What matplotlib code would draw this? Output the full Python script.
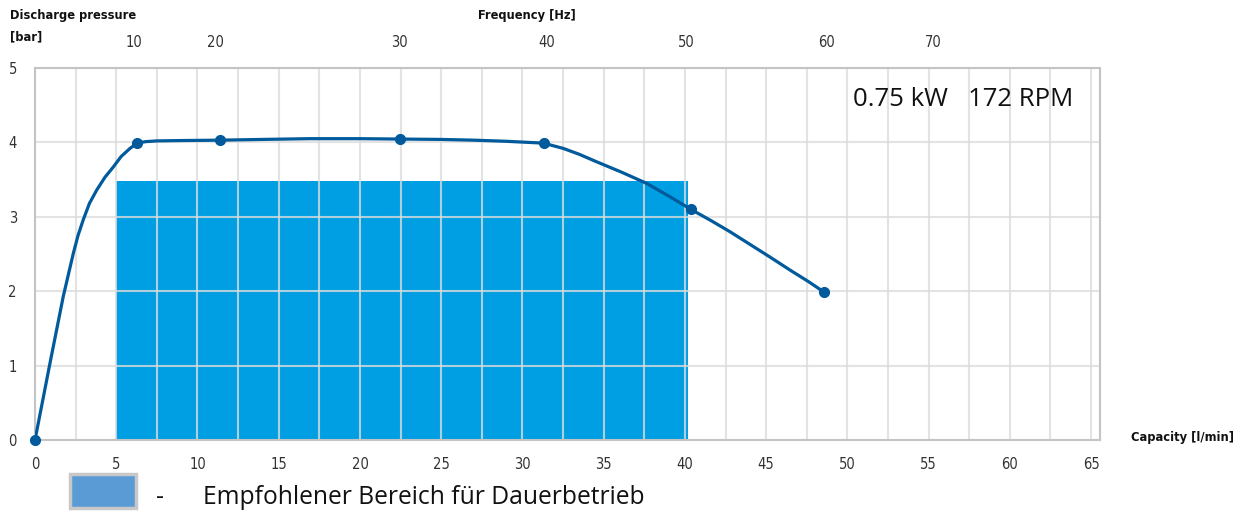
import matplotlib
matplotlib.use("Agg")
import matplotlib.pyplot as plt
from matplotlib.patches import Rectangle

# ---- data ----
# pump curve (capacity l/min -> discharge pressure bar)
curve_x = [0.0, 0.92, 1.74, 2.05, 2.36, 2.65, 2.97, 3.35, 3.8, 4.3, 4.82, 5.3, 5.85, 6.3, 6.8, 7.5,
           9.0, 11.38, 14.0, 16.9, 20.0, 22.46, 25.0, 27.0, 29.0, 31.3,
           32.5, 33.5, 34.56, 36.1, 37.64, 39.0, 40.37, 41.6, 42.77, 44.0, 45.23, 46.5, 47.6, 48.55]
curve_y = [0.0, 1.03, 1.93, 2.22, 2.51, 2.75, 2.96, 3.18, 3.36, 3.53, 3.67, 3.81, 3.92, 3.99, 4.01, 4.02,
           4.025, 4.03, 4.04, 4.05, 4.05, 4.045, 4.04, 4.03, 4.015, 3.99,
           3.92, 3.84, 3.74, 3.60, 3.45, 3.28, 3.10, 2.95, 2.80, 2.63, 2.46, 2.28, 2.13, 1.99]
# measured points (markers)
marker_x = [0.0, 6.3, 11.38, 22.46, 31.3, 40.37, 48.55]
marker_y = [0.0, 3.99, 4.03, 4.04, 3.99, 3.10, 1.99]
# recommended range for continuous operation
range_x = [5.0, 40.2]
range_y = [0.0, 3.48]
# frequency labels on the top axis and the capacity they sit at
freq_labels = ["10", "20", "30", "40", "50", "60", "70"]
freq_pos = [6.1, 11.1, 22.4, 31.5, 40.1, 48.7, 55.3]
cap_ticks = list(range(0, 70, 5))
p_ticks = [0, 1, 2, 3, 4, 5]

W, H = 1244, 512
fig = plt.figure(figsize=(W / 100, H / 100), dpi=100)
ax = fig.add_axes([35 / W, 1 - 440 / H, (1100 - 35) / W, (440 - 68) / H])

narrow = dict(family=['DejaVu Sans'], fontstretch='condensed')
plain = ['Open Sans', 'DejaVu Sans']
tick_fs = 10.5
lab_fs = 9.2

ax.set_xlim(0, 65.55)
ax.set_ylim(0, 5)

ax.add_patch(Rectangle((range_x[0], range_y[0]), range_x[1] - range_x[0], range_y[1] - range_y[0],
                       facecolor='#009fe3', edgecolor='none', zorder=1))

# grid on top of the range block
for xv in [i * 2.5 for i in range(1, 27)]:
    ax.axvline(xv, color='#dcdcdc', lw=1.5, alpha=0.8, zorder=2)
for yv in p_ticks[1:]:
    ax.axhline(yv, color='#dcdcdc', lw=1.5, alpha=0.8, zorder=2)

ax.plot(curve_x, curve_y, color='#005a9c', lw=2.3, zorder=4, solid_capstyle='round',
        solid_joinstyle='round')
ax.plot(marker_x, marker_y, 'o', color='#005a9c', ms=7, zorder=5, clip_on=False)

for s in ax.spines.values():
    s.set_color('#c4c4c4')
    s.set_linewidth(1.5)

ax.set_xticks(cap_ticks)
ax.set_xticklabels([str(t) for t in cap_ticks], fontsize=tick_fs, color='#333333', **narrow)
ax.set_yticks(p_ticks)
ax.set_yticklabels([str(t) for t in p_ticks], fontsize=tick_fs, color='#333333', **narrow)
ax.tick_params(axis='x', length=0, pad=12)
ax.tick_params(axis='y', length=0, pad=13)

top = ax.secondary_xaxis('top')
top.set_xticks(freq_pos)
top.set_xticklabels(freq_labels, fontsize=tick_fs, color='#333333', **narrow)
top.tick_params(length=0, pad=13)
top.spines['top'].set_visible(False)

def px(x, y):
    return x / W, 1 - y / H

fig.text(*px(10, 15), "Discharge pressure", fontweight='bold', fontsize=lab_fs,
         color='#111111', ha='left', va='center', **narrow)
fig.text(*px(10, 37), "[bar]", fontweight='bold', fontsize=lab_fs,
         color='#111111', ha='left', va='center', **narrow)
fig.text(*px(527, 15), "Frequency [Hz]", fontweight='bold', fontsize=lab_fs,
         color='#111111', ha='center', va='center', **narrow)
fig.text(*px(1234, 437), "Capacity [l/min]", fontweight='bold', fontsize=lab_fs,
         color='#111111', ha='right', va='center', **narrow)

fig.text(*px(1073, 99), "0.75 kW   172 RPM", family=plain, fontsize=18.5, color='#111111',
         ha='right', va='center')

# legend
fig.patches.append(Rectangle(px(70, 508), 66 / W, 34 / H, transform=fig.transFigure,
                             facecolor='#5b9bd5', edgecolor='#c8c8c8', lw=2.5))
fig.text(*px(160, 497), "-", family=plain, fontsize=17.7, color='#111111', ha='center', va='center')
fig.text(*px(203, 497), "Empfohlener Bereich für Dauerbetrieb", family=plain, fontsize=17.7,
         color='#111111', ha='left', va='center')

fig.savefig("out.png", dpi=100)
